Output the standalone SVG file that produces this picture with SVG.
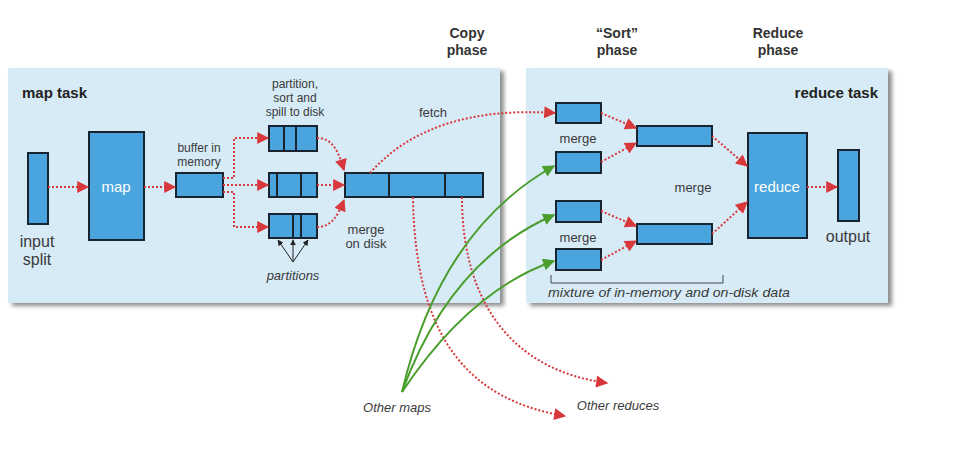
<svg xmlns="http://www.w3.org/2000/svg" width="968" height="464" viewBox="0 0 968 464">
<defs>
<filter id="sh" x="-5%" y="-5%" width="110%" height="115%">
<feGaussianBlur in="SourceAlpha" stdDeviation="2"/>
<feOffset dx="4" dy="3" result="b"/>
<feComponentTransfer><feFuncA type="linear" slope="0.45"/></feComponentTransfer>
<feMerge><feMergeNode/><feMergeNode in="SourceGraphic"/></feMerge>
</filter>
<marker id="ar" viewBox="0 0 10 10" refX="9" refY="5" markerWidth="13" markerHeight="12" markerUnits="userSpaceOnUse" orient="auto"><path d="M0,0 L10,5 L0,10 z" fill="#d8373b"/></marker>
<marker id="ag" viewBox="0 0 10 10" refX="9" refY="5" markerWidth="13" markerHeight="12" markerUnits="userSpaceOnUse" orient="auto"><path d="M0,0 L10,5 L0,10 z" fill="#4a9e2e"/></marker>
<marker id="ak" viewBox="0 0 10 10" refX="9" refY="5" markerWidth="6" markerHeight="6" markerUnits="userSpaceOnUse" orient="auto"><path d="M0,0 L10,5 L0,10 z" fill="#222"/></marker>
</defs>
<style>
.panel{fill:#d7ebf7}
.box{fill:#4aa5de;stroke:#1a2430;stroke-width:2}
.div{stroke:#1a2430;stroke-width:2}
text{font-family:"Liberation Sans Narrow","Liberation Sans",Arial,sans-serif;fill:#3a3a3a}
.t{font-size:13px;text-anchor:middle}
.s{font-size:12px;text-anchor:middle}
.tl{font-size:16px;text-anchor:middle}
.h{font-size:14px;font-weight:bold;text-anchor:middle;fill:#333}
.ttl{font-size:15px;font-weight:bold;fill:#222}
.w{font-size:15px;fill:#fff;text-anchor:middle}
.i{font-style:italic;font-size:13px}
.red{fill:none;stroke:#d8373b;stroke-width:2;stroke-dasharray:2 2;marker-end:url(#ar)}
.grn{fill:none;stroke:#4a9e2e;stroke-width:2;marker-end:url(#ag)}
.blk{fill:none;stroke:#222;stroke-width:1;marker-end:url(#ak)}
</style>
<rect width="968" height="464" fill="#fff"/>

<g id="phases">
<text class="h" x="467" y="38">Copy</text><text class="h" x="467" y="55">phase</text>
<text class="h" x="617" y="38">“Sort”</text><text class="h" x="617" y="55">phase</text>
<text class="h" x="778" y="38">Reduce</text><text class="h" x="778" y="55">phase</text>
</g>

<g id="map-task">
<rect class="panel" x="8" y="68" width="492" height="235" filter="url(#sh)"/>
<text class="ttl" x="22" y="98">map task</text>
</g>
<g id="reduce-task">
<rect class="panel" x="526" y="68" width="362" height="235" filter="url(#sh)"/>
<text class="ttl" x="878" y="98" text-anchor="end">reduce task</text>
</g>

<g id="input-split">
<rect class="box" x="28" y="153" width="20" height="71"/>
<text class="tl" x="37" y="247">input</text><text class="tl" x="37" y="265">split</text>
</g>
<g id="map">
<rect class="box" x="89" y="132" width="55" height="108"/>
<text class="w" x="116" y="192">map</text>
</g>
<g id="buffer">
<rect class="box" x="176" y="173" width="47" height="24"/>
<text class="s" x="199" y="152">buffer in</text><text class="s" x="199" y="166">memory</text>
</g>
<g id="spill">
<text class="s" x="295" y="88">partition,</text><text class="s" x="295" y="102">sort and</text><text class="s" x="295" y="116">spill to disk</text>
<rect class="box" x="269" y="126" width="48" height="25"/>
<line class="div" x1="284" y1="126" x2="284" y2="151"/><line class="div" x1="296" y1="126" x2="296" y2="151"/>
<rect class="box" x="269" y="173" width="48" height="24"/>
<line class="div" x1="277" y1="173" x2="277" y2="197"/><line class="div" x1="301" y1="173" x2="301" y2="197"/>
<rect class="box" x="269" y="214" width="48" height="24"/>
<line class="div" x1="293" y1="214" x2="293" y2="238"/><line class="div" x1="301" y1="214" x2="301" y2="238"/>
</g>
<g id="partitions">
<path class="blk" d="M293,262 L278,240"/>
<path class="blk" d="M293,262 L293,240"/>
<path class="blk" d="M293,262 L308,240"/>
<text class="i" x="293" y="280" text-anchor="middle">partitions</text>
</g>
<g id="merge-on-disk">
<rect class="box" x="345" y="173" width="138" height="24"/>
<line class="div" x1="389" y1="173" x2="389" y2="197"/><line class="div" x1="445" y1="173" x2="445" y2="197"/>
<text class="t" x="366" y="234">merge</text><text class="t" x="366" y="248">on disk</text>
</g>
<g id="fetch-label"><text class="t" x="433" y="117">fetch</text></g>

<g id="sort-merge">
<rect class="box" x="556" y="103" width="45" height="20"/>
<rect class="box" x="556" y="152" width="45" height="21"/>
<rect class="box" x="556" y="201" width="45" height="21"/>
<rect class="box" x="556" y="249" width="45" height="21"/>
<text class="t" x="578" y="143">merge</text>
<text class="t" x="578" y="242">merge</text>
<rect class="box" x="637" y="126" width="75" height="20"/>
<rect class="box" x="637" y="224" width="75" height="20"/>
<text class="t" x="693" y="192">merge</text>
<path d="M551,275 V283 H723 V275" fill="none" stroke="#444" stroke-width="1"/>
<text class="i" x="548" y="297" textLength="242" lengthAdjust="spacingAndGlyphs">mixture of in-memory and on-disk data</text>
</g>
<g id="reduce">
<rect class="box" x="748" y="133" width="59" height="105"/>
<text class="w" x="777" y="192">reduce</text>
</g>
<g id="output">
<rect class="box" x="838" y="150" width="21" height="71"/>
<text class="tl" x="848" y="242">output</text>
</g>
<g id="other">
<text class="i" x="397" y="412" text-anchor="middle" font-size="14">Other maps</text>
<text class="i" x="618" y="410" text-anchor="middle" font-size="14">Other reduces</text>
</g>

<g id="connectors">
<path class="red" d="M48,187 H88"/>
<path class="red" d="M144,187 H175"/>
<path class="red" d="M223,178 H234 V138 H268"/>
<path class="red" d="M223,185 H268"/>
<path class="red" d="M223,192 H234 V227 H268"/>
<path class="red" d="M317,138 C332,138 338,150 344,170"/>
<path class="red" d="M317,185 H344"/>
<path class="red" d="M317,227 C332,227 338,215 344,200"/>
<path class="red" d="M370,173 Q430,105 555,113"/>
<path class="red" d="M413,197 C415,340 470,400 565,416"/>
<path class="red" d="M462,197 C462,300 510,370 607,383"/>
<path class="red" d="M601,113 L636,128"/>
<path class="red" d="M601,162 L636,143"/>
<path class="red" d="M601,211 L636,226"/>
<path class="red" d="M601,260 L636,241"/>
<path class="red" d="M712,136 L747,166"/>
<path class="red" d="M712,234 L747,202"/>
<path class="red" d="M807,187 H837"/>
<path class="grn" d="M402,392 Q440,230 554,166"/>
<path class="grn" d="M402,392 Q450,260 554,215"/>
<path class="grn" d="M402,392 Q470,290 554,261"/>
</g>
</svg>
